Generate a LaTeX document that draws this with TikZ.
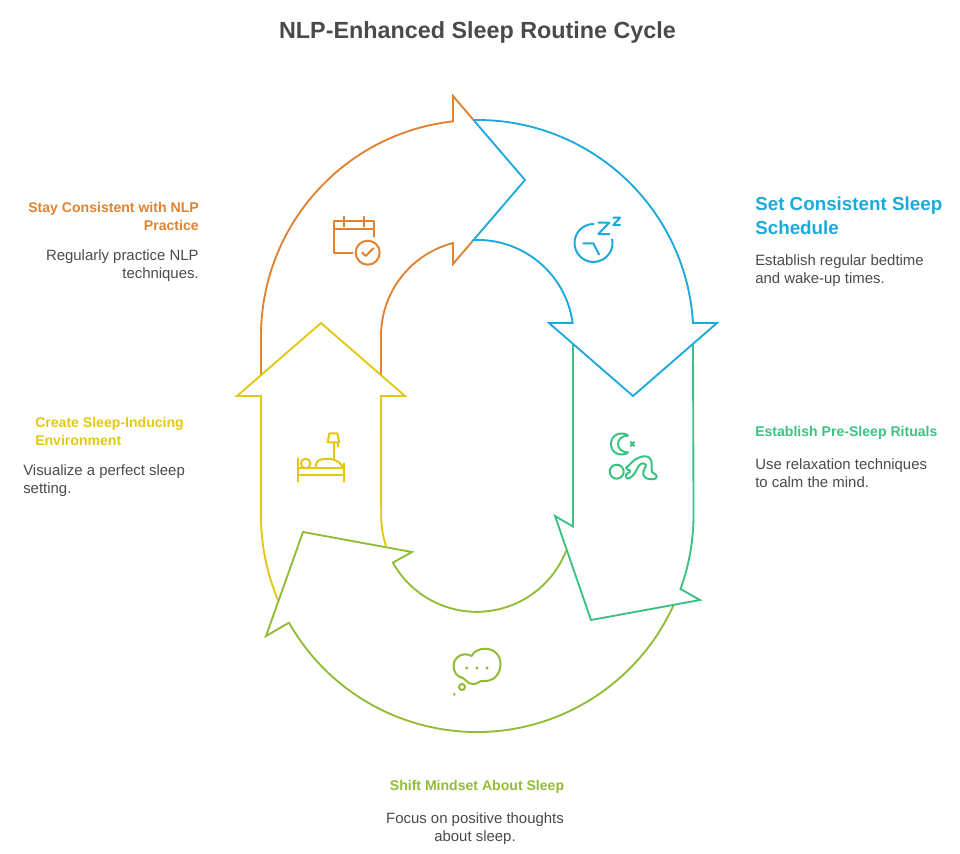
\documentclass[tikz,border=0pt]{standalone}
\usepackage{fontspec}
\setmainfont{Liberation Sans}
\definecolor{cOrange}{HTML}{E0822F}
\definecolor{cBlue}{HTML}{1DA9DB}
\definecolor{cTeal}{HTML}{3BC283}
\definecolor{cLime}{HTML}{90BC36}
\definecolor{cYellow}{HTML}{E3C80F}
\definecolor{cText}{HTML}{4A4A4A}
\tikzset{
  ring/.style={line width=1.4pt,miter limit=10,line join=miter,fill=none},
  ico/.style={line width=1.5pt,line join=round,line cap=round},
  headA/.style={font=\fontsize{14.1}{18}\selectfont\bfseries,inner sep=0pt,align=left},
  headB/.style={font=\fontsize{10.55}{13.5}\selectfont\bfseries,inner sep=0pt},
  bodyT/.style={font=\fontsize{11.2}{13.5}\selectfont,text=cText,inner sep=0pt}
}
\begin{document}
\begin{tikzpicture}[x=1pt,y=1pt,xscale=0.75,yscale=-0.75]
\useasboundingbox (0,0) rectangle (960,853);
% orange
\draw[ring,cOrange] (261,376) -- (261,336) arc[start angle=180,end angle=263.6,radius=216pt] -- (453,96) -- (473.5,120);
\draw[ring,cOrange] (381,376) -- (381,336) arc[start angle=180,end angle=255.5,radius=96pt] -- (453,264) -- (473.5,240);
% yellow
\draw[ring,cYellow] (386,546) arc[start angle=161.8,end angle=180,radius=96pt] -- (381,396) -- (405,396) -- (321,323) -- (237,396) -- (261,396) -- (261,516) arc[start angle=180,end angle=157.1,radius=216pt];
% lime
\draw[ring,cLime] (566,551) arc[start angle=21.5,end angle=150.8,radius=96pt] -- (412,552) -- (303,532) -- (266,636) -- (289,622.7) arc[start angle=150.4,end angle=24.3,radius=216pt];
% teal
\draw[ring,cTeal] (573,344) -- (573,526.5) -- (555,516) -- (591,620) -- (700,600) -- (680.5,589) arc[start angle=20,end angle=0,radius=216pt] -- (693,344);
% blue
\draw[ring,cBlue] (473.5,120) -- (525,180) -- (473.5,240) arc[start angle=-92.4,end angle=-7.8,radius=96pt] -- (549,323) -- (633,396) -- (717,323) -- (693,323) arc[start angle=-3.45,end angle=-91,radius=216pt];
% calendar icon
\draw[ico,cOrange] (352.7,252.7) -- (334,252.7) -- (334,220.7) -- (374,220.7) -- (374,236.7);
\draw[ico,cOrange] (334,229) -- (374,229) (344,216.7) -- (344,226.7) (363.7,216.7) -- (363.7,226.7);
\draw[ico,cOrange] (367.7,252.7) circle[radius=12pt];
\draw[ico,cOrange] (362.3,252.7) -- (365.7,256) -- (373.3,248.3);
% clock icon
\draw[ico,cBlue] (593.5,224) arc[start angle=270,end angle=-11,radius=19pt];
\draw[ico,cBlue] (583.3,243.3) -- (593.3,243.3) -- (599,254.3);
\draw[ico,cBlue] (598.3,222.7) -- (609.3,222.7) -- (598.3,234) -- (609.3,234);
\draw[ico,cBlue] (613.3,217.7) -- (620,217.7) -- (613.3,225) -- (620,225);
% rituals icon
\draw[ico,cTeal] (628,435.5) .. controls (622,431) and (611,434) .. (611,444) .. controls (611,454) and (622,457) .. (628,452.5) .. controls (622,452) and (618,449) .. (618,444) .. controls (618,439) and (622,436) .. (628,435.5) -- cycle;
\draw[ico,cTeal] (630.5,442) -- (634.2,446) (634.2,442) -- (630.5,446);
\draw[ico,cTeal] (616.7,471.7) circle[radius=7pt];
\draw[ico,cTeal] (626,467.7) .. controls (630,465) and (634,459) .. (639,457.5) .. controls (643,456) and (649,455) .. (651,460) .. controls (652.5,464) and (651,468) .. (652,472) .. controls (653,474) and (657,474) .. (656.7,477) .. controls (656.5,480) and (650,479.5) .. (647,478.5) .. controls (643,477) and (642.5,473) .. (644,470) .. controls (645,468) and (647,465) .. (645,464) .. controls (642,462.5) and (640,464) .. (638,467) .. controls (636,471) and (634,476) .. (629,478.5) .. controls (626,479.5) and (624.5,475) .. (627,473.5) .. controls (629,472.5) and (631,472) .. (630,470.5) .. controls (629,469.5) and (625.5,470) .. (626,467.7) -- cycle;
% bed icon
\draw[ico,cYellow] (298.3,458.3) -- (298.3,481.7) (344,463.3) -- (344,481.7) (298.3,468.3) -- (344,468.3) (298.3,475) -- (344,475);
\draw[ico,cYellow] (305.7,463.5) circle[radius=4.8pt];
\draw[ico,cYellow] (315.7,468.3) .. controls (315.7,463) and (317,460.5) .. (321,459.5) .. controls (326,458.5) and (330,458.5) .. (333,459.5) .. controls (338,461) and (342,464) .. (343,468);
\draw[ico,cYellow] (329.3,433.3) -- (337.3,433.3) -- (339.3,442.3) -- (327.7,442.3) -- cycle;
\draw[ico,cYellow] (334,442.3) -- (334,458.3) (338.3,442.3) -- (338.3,446.7);
% cloud icon
\draw[ico,cLime] (471.5,656) .. controls (474,651) and (480,648.7) .. (485,648.7) .. controls (494,648.7) and (500.5,655) .. (500.5,664) .. controls (500.5,674) and (494,681) .. (485,681) .. controls (483,681) and (481,681) .. (480.5,681.2) .. controls (478,683) and (476,684) .. (473,684) .. controls (468,684) and (466,680) .. (463,678) .. controls (457,677) and (453.5,672) .. (453.5,666) .. controls (453.5,659) and (459,654.3) .. (465,654.3) .. controls (468,654.3) and (470,655) .. (471.5,656) -- cycle;
\fill[cLime] (466.7,668) circle[radius=1.6pt] (477,668) circle[radius=1.6pt] (487,668) circle[radius=1.6pt] (454.3,694.3) circle[radius=1.4pt];
\draw[ico,cLime] (462,687) circle[radius=3pt];
% texts
\node[anchor=base,inner sep=0pt,text=cText,font=\fontsize{17.5}{22}\selectfont\bfseries] (title) at (477.5,38) {NLP-Enhanced Sleep Routine Cycle};
\node[headA,text=cBlue,anchor=north west] (h1) at (755,197) {Set Consistent Sleep\\Schedule};
\node[bodyT,align=left,anchor=north west] (b1) at (755,254.5) {Establish regular bedtime\\and wake-up times.};
\node[headB,text=cTeal,anchor=base west] (h2) at (755,436) {Establish Pre-Sleep Rituals};
\node[bodyT,align=left,anchor=north west] (b2) at (755,458.5) {Use relaxation techniques\\to calm the mind.};
\node[headB,text=cLime,anchor=base] (h3) at (477,790) {Shift Mindset About Sleep};
\node[bodyT,align=center,anchor=north] (b3) at (475,812.5) {Focus on positive thoughts\\about sleep.};
\node[headB,text=cYellow,align=left,anchor=north west] (h4) at (35,417) {Create Sleep-Inducing\\Environment};
\node[bodyT,align=left,anchor=north west] (b4) at (23,464.5) {Visualize a perfect sleep\\setting.};
\node[headB,text=cOrange,align=right,anchor=north east] (h5) at (199,202) {Stay Consistent with NLP\\Practice};
\node[bodyT,align=right,anchor=north east] (b5) at (199,249.5) {Regularly practice NLP\\techniques.};
\end{tikzpicture}
\end{document}
